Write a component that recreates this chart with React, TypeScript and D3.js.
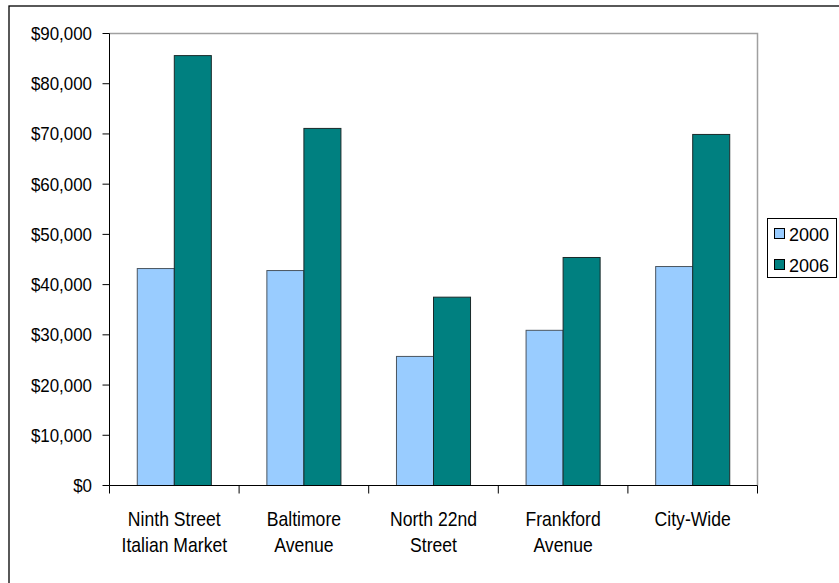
import React from "react";
import * as d3 from "d3";

const categories: string[][] = [
  ["Ninth Street", "Italian Market"],
  ["Baltimore", "Avenue"],
  ["North 22nd", "Street"],
  ["Frankford", "Avenue"],
  ["City-Wide"],
];
const seriesNames = ["2000", "2006"];
const values2000 = [43200, 42800, 25700, 30900, 43600];
const values2006 = [85600, 71100, 37500, 45400, 69900];
const yTicks = [0, 10000, 20000, 30000, 40000, 50000, 60000, 70000, 80000, 90000];
const colors = ["#99CCFF", "#008080"];

const W = 839;
const H = 583;
const plot = { left: 109.5, right: 757.5, top: 33.5, bottom: 485.5 };
const FONT = "'Liberation Sans', Arial, sans-serif";

export default function App() {
  const x = d3
    .scaleBand<number>()
    .domain(categories.map((_, i) => i))
    .range([plot.left, plot.right]);
  const y = d3.scaleLinear().domain([0, 90000]).range([plot.bottom, plot.top]);
  const bw = x.bandwidth();
  const barW = bw / 3.5;
  const fmt = (v: number) => "$" + d3.format(",")(v);
  const series = [values2000, values2006];

  return (
    <div style={{ position: "absolute", left: 0, top: 0 }}>
      <svg width={W} height={H} style={{ display: "block", background: "#fff" }}>
        {/* outer chart border (cropped) */}
        <rect x={9} y={6} width={W + 20} height={H + 20} fill="#fff" stroke="#000" strokeWidth={1.3} />
        {/* plot area border top/right */}
        <path
          d={`M${plot.left},${plot.top}H${plot.right}V${plot.bottom}`}
          fill="none"
          stroke="#a0a0a0"
          strokeWidth={1.5}
        />
        {/* bars */}
        {series.map((vals, s) =>
          vals.map((v, i) => {
            const x0 = (x(i) as number) + bw / 2 - barW + s * barW;
            return (
              <rect
                key={`${s}-${i}`}
                x={x0}
                y={y(v)}
                width={barW}
                height={y(0) - y(v)}
                fill={colors[s]}
                stroke={s === 0 ? "#4a5560" : "#1a2a2a"}
                strokeWidth={1}
              />
            );
          })
        )}
        {/* y axis */}
        <line x1={plot.left} x2={plot.left} y1={plot.top} y2={plot.bottom} stroke="#000" strokeWidth={1} />
        {yTicks.map((t) => (
          <g key={t}>
            <line x1={plot.left - 7} x2={plot.left} y1={y(t)} y2={y(t)} stroke="#000" />
            <text
              transform={`translate(92,${y(t)}) scale(0.94,1)`}
              dy="0.36em"
              textAnchor="end"
              fontFamily={FONT}
              fontSize={18}
              fill="#000"
            >
              {fmt(t)}
            </text>
          </g>
        ))}
        {/* x axis */}
        <line x1={plot.left} x2={plot.right} y1={plot.bottom} y2={plot.bottom} stroke="#000" />
        {categories.map((_, i) => (
          <line
            key={i}
            x1={x(i) as number}
            x2={x(i) as number}
            y1={plot.bottom}
            y2={plot.bottom + 8}
            stroke="#000"
          />
        ))}
        <line x1={plot.right} x2={plot.right} y1={plot.bottom} y2={plot.bottom + 8} stroke="#000" />
        {categories.map((lines, i) => (
          <text
            key={i}
            transform={`translate(${(x(i) as number) + bw / 2},0) scale(0.88,1)`}
            textAnchor="middle"
            fontFamily={FONT}
            fontSize={20}
            fill="#000"
          >
            {lines.map((ln, j) => (
              <tspan key={j} x={0} y={526 + j * 26.5}>
                {ln}
              </tspan>
            ))}
          </text>
        ))}
        {/* legend */}
        <rect x={767.5} y={218.5} width={69} height={59} fill="#fff" stroke="#000" strokeWidth={1} />
        {seriesNames.map((n, s) => (
          <g key={n}>
            <rect
              x={774.5}
              y={228.5 + s * 31}
              width={10}
              height={10}
              fill={colors[s]}
              stroke="#000"
              strokeWidth={1}
            />
            <text
              transform={`translate(789,${240.5 + s * 31}) scale(0.95,1)`}
              fontFamily={FONT}
              fontSize={19}
              fill="#000"
            >
              {n}
            </text>
          </g>
        ))}
      </svg>
    </div>
  );
}
